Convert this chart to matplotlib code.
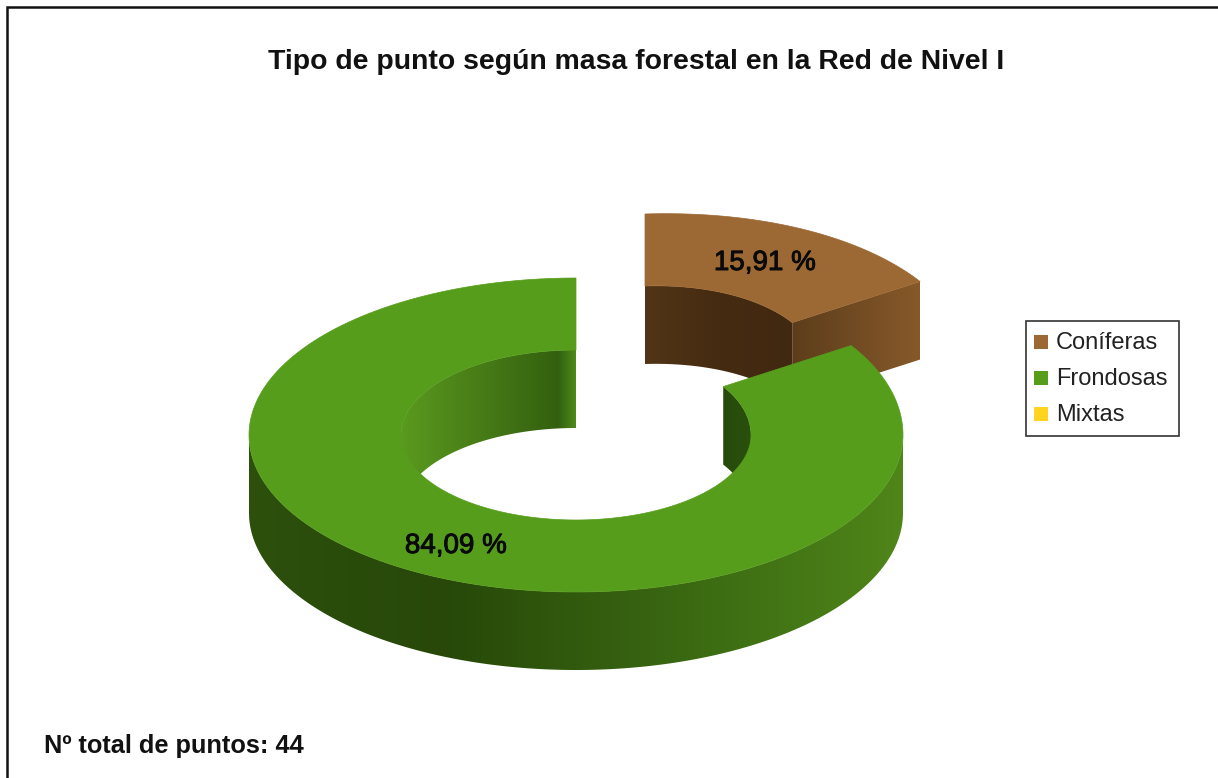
import numpy as np
import matplotlib
matplotlib.use("Agg")
import matplotlib.pyplot as plt
import matplotlib.patheffects as pe
from matplotlib.colors import LinearSegmentedColormap
from matplotlib.patches import Polygon, Rectangle

plt.rcParams['font.family'] = ['Liberation Sans', 'DejaVu Sans']

titulo = "Tipo de punto según masa forestal en la Red de Nivel I"
nota = "Nº total de puntos: 44"
categorias = ["Coníferas", "Frondosas", "Mixtas"]
valores = [15.91, 84.09, 0.0]
colores = ["#9C6834", "#579D1C", "#FFD320"]

# geometry of the ring, in pixels of the picture
cx, cy = 576, 435
out_a, out_b = 327, 157
in_a, in_b = 175, 85
depth = 78
explode = (69, -64)


def ring_pt(a, b, t, off=(0, 0), dz=0):
    # t in degrees, clockwise from the top
    t = np.radians(t)
    # small lift in the upper right quadrant, the original has some perspective
    lift = a / 65 * np.where(t <= np.pi / 2, np.sin(2 * t), 0)
    return cx + off[0] + a * np.sin(t), cy + off[1] + dz - b * np.cos(t) - lift


def arc(a, b, t1, t2, off=(0, 0), dz=0):
    x, y = ring_pt(a, b, np.linspace(t1, t2, 200), off, dz)
    return np.column_stack([x, y])


def shaded(ax, pts, stops, zorder):
    # horizontal gradient clipped to a polygon
    x0, x1 = pts[:, 0].min(), pts[:, 0].max()
    y0, y1 = pts[:, 1].min(), pts[:, 1].max()
    cmap = LinearSegmentedColormap.from_list("g", stops)
    im = ax.imshow(np.linspace(0, 1, 256).reshape(1, -1), extent=(x0, x1, y1, y0),
                   cmap=cmap, aspect="auto", zorder=zorder, interpolation="bilinear")
    clip = Polygon(pts, closed=True, transform=ax.transData, fc="none", ec="none")
    ax.add_patch(clip)
    im.set_clip_path(clip)


def top_face(ax, t1, t2, color, off, zorder):
    pts = np.vstack([arc(out_a, out_b, t1, t2, off), arc(in_a, in_b, t2, t1, off)])
    ax.add_patch(Polygon(pts, closed=True, fc=color, ec=color, lw=0.5, zorder=zorder))


def band(a, b, t1, t2, off=(0, 0)):
    return np.vstack([arc(a, b, t1, t2, off), arc(a, b, t2, t1, off, depth)])


fig = plt.figure(figsize=(12.18, 7.78), dpi=100)
ax = fig.add_axes([0, 0, 1, 1])

# angles come from the values, clockwise from 12 o'clock
t_con = 360 * valores[0] / 100

# Coniferas slice, pulled out
shaded(ax, band(in_a, in_b, 0, t_con, explode),
       [(0, "#523517"), (0.5, "#452B12"), (1, "#412810")], 2)
cara = np.array([ring_pt(in_a, in_b, t_con, explode),
                 ring_pt(out_a, out_b, t_con, explode),
                 ring_pt(out_a, out_b, t_con, explode, depth),
                 ring_pt(in_a, in_b, t_con, explode, depth)])
shaded(ax, cara, [(0, "#5C3D1B"), (1, "#87592A")], 2)
top_face(ax, 0, t_con, colores[0], explode, 3)

# Frondosas: inner wall, outer wall, then the top face over them
shaded(ax, band(in_a, in_b, 270, 360),
       [(0, "#5A9A1F"), (0.4, "#4A7F18"), (0.9, "#33600F"), (1, "#4F8A19")], 4)
shaded(ax, band(in_a, in_b, t_con, 90), [(0, "#264A0B"), (1, "#2A500D")], 4)
shaded(ax, band(out_a, out_b, 90, 270),
       [(0, "#2D500D"), (0.3, "#274809"), (0.5, "#325A0E"), (0.75, "#3F7014"), (1, "#4F8519")], 5)
top_face(ax, t_con, 360, colores[1], (0, 0), 6)

# labels look heavier than regular in the original
grueso = [pe.withStroke(linewidth=0.7, foreground="#0a0a0a")]
ax.text(765, 263, f"{valores[0]:.2f} %".replace(".", ","), ha="center", va="center",
        fontsize=20, color="#0a0a0a", zorder=8, path_effects=grueso)
ax.text(456, 546, f"{valores[1]:.2f} %".replace(".", ","), ha="center", va="center",
        fontsize=20, color="#0a0a0a", zorder=8, path_effects=grueso)

ax.text(636, 62, titulo, ha="center", va="center", fontsize=20.4, fontweight="bold", color="#111111")
ax.text(44, 746, nota, ha="left", va="center", fontsize=18.3, fontweight="bold", color="#111111")

# legend
ax.add_patch(Rectangle((1026, 321), 153, 115, fc="white", ec="#333333", lw=1.2, zorder=9))
for i, cat in enumerate(categorias):
    y = 342 + i * 36
    ax.add_patch(Rectangle((1034, y - 7), 14, 14, fc=colores[i], ec="none", zorder=10))
    ax.text(1056, y + 1, cat, ha="left", va="center", fontsize=17, color="#222222", zorder=10)

# frame: only top and left show in the picture
ax.plot([7, 7, 1218], [778, 6.5, 6.5], color="#111111", lw=1.8, zorder=11, solid_joinstyle="miter")

ax.set_xlim(0, 1218)
ax.set_ylim(778, 0)
ax.axis("off")
fig.savefig("out.png", dpi=100, facecolor="white")
